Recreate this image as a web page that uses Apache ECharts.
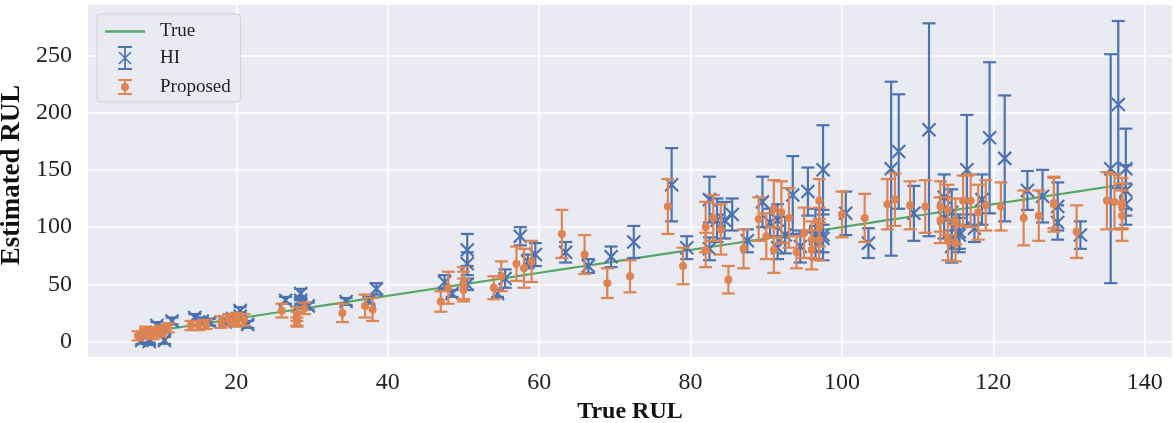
<!DOCTYPE html>
<html><head><meta charset="utf-8">
<script src="https://cdn.jsdelivr.net/npm/echarts@6/dist/echarts.min.js"></script>
<style>html,body{margin:0;padding:0;background:#fff}#c{width:1175px;height:423px}</style>
</head><body><div id="c"></div>
<script>
// ---- data ----
const trueRUL  = [7,8,8,9,9,10,10,11,14,15,16,18,19,20,20,21,26,28,28,28,29,34,37,38,47,48,50,50,50,54,55,57,58,59,63,66,69,72,77,79,82,82,83,84,85,87,89,90,91,91,92,93,94,95,96,96,97,97,97,100,103,106,107,109,111,113,113,114,114,115,115,116,117,118,119,121,124,126,128,128,131,135,136,137,137,137];
const propMean = [5,7,9,8,6,10,8,12,14,14,15,17,19,20,18,19,27,20,24,17,29,25,31,28,35,47,51,49,45,47,57,68,64,70,94,76,51,57,118,66,100,80,108,98,54,81,107,92,116,80,113,108,78,95,89,80,123,100,89,111,108,120,124,119,118,118,106,115,89,86,105,123,123,113,119,118,108,110,120,121,96,123,122,121,110,118];
const propErr  = [4,4,4,4,4,4,4,4,4,4,4,5,5,5,5,5,6,6,6,4,5,8,10,10,9,14,14,12,10,10,13,15,17,18,21,17,13,14,24,16,22,15,20,22,12,17,19,20,25,20,27,26,14,22,16,17,19,17,18,20,21,22,23,21,23,22,20,22,18,16,20,22,23,24,22,21,24,22,24,22,23,25,24,22,22,20];
const hiMean   = [1,2,0,14,8,1,11,18,21,18,17,17,20,27,22,15,36,33,42,36,31,35,36,46,52,42,80,68,50,42,55,92,70,76,78,66,74,87,137,82,124,81,106,106,111,88,122,104,106,82,93,128,83,131,90,94,150,90,93,112,86,151,166,112,185,126,108,113,83,93,96,150,99,124,178,160,132,127,118,104,93,151,207,151,132,120];
const hiErr    = [3,3,3,3,3,3,3,3,3,3,3,3,3,3,3,3,3,3,4,3,3,3,3,5,6,3,14,10,5,3,8,8,6,10,9,6,9,14,32,10,20,10,19,16,14,10,22,12,14,10,16,34,14,21,11,22,39,12,22,19,13,76,50,24,93,20,18,20,14,15,15,48,12,22,66,55,17,23,21,15,12,100,73,35,22,18];
const xTicks = [20,40,60,80,100,120,140];
const yTicks = [0,50,100,150,200,250];

const BLUE = '#4C72B0', ORANGE = '#DD8452', GREEN = '#55A868';
const FONT = "'Liberation Serif','Times New Roman',serif";
const HI_DODGE = 0.5;   // HI marks are drawn slightly to the right of their true RUL

const trueLine = trueRUL.map(v => [v, v]);
const hiData = trueRUL.map((x, i) => [x, hiMean[i], hiMean[i] - hiErr[i], hiMean[i] + hiErr[i]]);
const propData = trueRUL.map((x, i) => [x, propMean[i], propMean[i] - propErr[i], propMean[i] + propErr[i]]);

function makeRenderer(color, dodge, marker) {
  return function (params, api) {
    const x = api.value(0) + dodge;
    const c = api.coord([x, api.value(1)]);
    const lo = api.coord([x, api.value(2)]);
    const hi = api.coord([x, api.value(3)]);
    const cw = 6.5;
    const st = { stroke: color, lineWidth: 2.2, fill: null };
    const ch = [
      { type: 'line', shape: { x1: c[0], y1: lo[1], x2: c[0], y2: hi[1] }, style: st },
      { type: 'line', shape: { x1: c[0] - cw, y1: lo[1], x2: c[0] + cw, y2: lo[1] }, style: st },
      { type: 'line', shape: { x1: c[0] - cw, y1: hi[1], x2: c[0] + cw, y2: hi[1] }, style: st }
    ];
    if (marker === 'x') {
      const m = 6.5;
      ch.push({ type: 'line', shape: { x1: c[0] - m, y1: c[1] - m, x2: c[0] + m, y2: c[1] + m }, style: st });
      ch.push({ type: 'line', shape: { x1: c[0] - m, y1: c[1] + m, x2: c[0] + m, y2: c[1] - m }, style: st });
    } else {
      ch.push({ type: 'circle', shape: { cx: c[0], cy: c[1], r: 4 }, style: { fill: color, stroke: null } });
    }
    return { type: 'group', children: ch };
  };
}

const lineIcon = 'path://M0,11L40,11L40,13.4L0,13.4Z';
const hiIcon = 'path://M19.1,0L20.9,0L20.9,24L19.1,24Z' +
  'M13,0L27,0L27,2L13,2Z' +
  'M13,22L27,22L27,24L13,24Z' +
  'M14.57,5.43L26.57,17.43L25.43,18.57L13.43,6.57Z' +
  'M25.43,5.43L26.57,6.57L14.57,18.57L13.43,17.43Z';
const propIcon = 'path://M20,0L20,0M20,24L20,24' +
  'M19.1,4L20.9,4L20.9,20L19.1,20Z' +
  'M13,4L27,4L27,6L13,6Z' +
  'M13,18L27,18L27,20L13,20Z' +
  'M24,12A4,4 0 1 1 16,12A4,4 0 1 1 24,12Z';

const chart = echarts.init(document.getElementById('c'), null, { renderer: 'canvas' });
chart.setOption({
  animation: false,
  backgroundColor: '#ffffff',
  grid: { left: 88, right: 3, top: 5, bottom: 66, show: true, backgroundColor: '#EAEAF2', borderWidth: 0,
          containLabel: false, outerBoundsMode: 'none' },
  legend: {
    left: 97, top: 14, orient: 'vertical',
    padding: [8, 10, 3, 8],
    itemWidth: 40, itemHeight: 24, itemGap: 5,
    backgroundColor: '#EAEAF2', borderColor: '#cfcfd6', borderWidth: 1, borderRadius: 4,
    textStyle: { fontFamily: FONT, fontSize: 19, color: '#222', padding: [0, 0, 0, 10] },
    data: [
      { name: 'True', icon: lineIcon },
      { name: 'HI', icon: hiIcon },
      { name: 'Proposed', icon: propIcon }
    ]
  },
  xAxis: {
    type: 'value', min: 0.4, max: 143.6,
    name: 'True RUL', nameLocation: 'middle', nameGap: 37,
    nameTextStyle: { fontFamily: FONT, fontSize: 24, fontWeight: 'bold', color: '#111' },
    axisLine: { show: false },
    axisTick: { show: false, customValues: xTicks },
    axisLabel: { customValues: xTicks, fontFamily: FONT, fontSize: 24, color: '#222', margin: 14 },
    splitLine: { show: true, lineStyle: { color: '#ffffff', width: 1.6 } }
  },
  yAxis: {
    type: 'value', min: -13.5, max: 294,
    name: 'Estimated RUL', nameLocation: 'middle', nameGap: 56, nameRotate: 90,
    nameTextStyle: { fontFamily: FONT, fontSize: 27, fontWeight: 'bold', color: '#111', padding: [0, 0, 0, 12] },
    axisLine: { show: false },
    axisTick: { show: false, customValues: yTicks },
    axisLabel: { customValues: yTicks, fontFamily: FONT, fontSize: 24, color: '#222', margin: 16 },
    splitLine: { show: true, lineStyle: { color: '#ffffff', width: 1.6 } }
  },
  series: [
    { name: 'True', type: 'line', data: trueLine, symbol: 'none', z: 2,
      lineStyle: { color: GREEN, width: 2.2 }, itemStyle: { color: GREEN } },
    { name: 'HI', type: 'custom', data: hiData, z: 3,
      encode: { x: 0, y: 1 }, itemStyle: { color: BLUE },
      renderItem: makeRenderer(BLUE, HI_DODGE, 'x') },
    { name: 'Proposed', type: 'custom', data: propData, z: 4,
      encode: { x: 0, y: 1 }, itemStyle: { color: ORANGE },
      renderItem: makeRenderer(ORANGE, 0, 'o') }
  ]
});
</script>
</body></html>
